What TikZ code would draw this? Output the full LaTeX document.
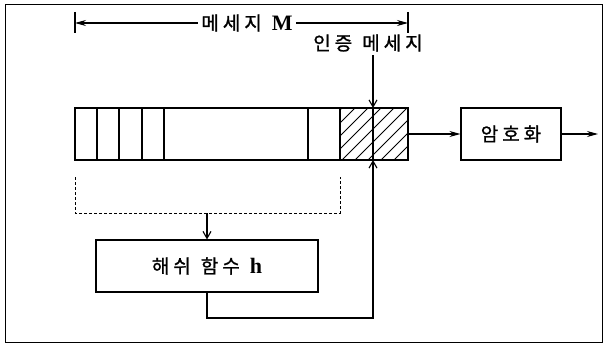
\documentclass[tikz,border=0pt]{standalone}
\usepackage{fontspec}
\setmainfont{Liberation Serif}
\newfontfamily\kr{Noto Sans CJK KR}[FakeBold=1.2]
\usetikzlibrary{arrows.meta}
\newcommand{\ks}{\hspace{4pt}}
\newcommand{\kw}{\hspace{10pt}}
\newcommand{\lat}[1]{{\rmfamily\bfseries\fontsize{22}{24}\selectfont #1}}
\tikzset{
  box/.style={draw,line width=1.1pt,inner sep=0pt},
  harr/.style={-{Stealth[length=11pt,width=6pt]}},
  varr/.style={-{Straight Barb[length=7pt,width=8pt]}},
  lbl/.style={font=\kr\fontsize{19}{21}\selectfont}
}
\begin{document}
\begin{tikzpicture}[x=1pt,y=-1pt,line width=1.1pt]
  \useasboundingbox (0,0) rectangle (606,345);
  \draw[line width=0.8pt] (5,4) rectangle (602,342);
  % message M dimension
  \draw (75,12) -- (75,33);
  \draw (408,12) -- (408,33);
  \node[lbl] (mlabel) at (247,23) {메\ks 세\ks 지\kw\lat{M}};
  \draw[harr] (mlabel.west) -- (75,23);
  \draw[harr] (mlabel.east) -- (408,23);
  % message block
  \node[box,minimum width=333pt,minimum height=52pt] (msg) at (241.5,134) {};
  \foreach \xx in {97,119,142,164,308,340} {
    \draw (\xx,108) -- (\xx,160);
  }
  \begin{scope}
    \clip (340,108) rectangle (408,160);
    \foreach \d in {290,303,...,420} {
      \draw[line width=1pt] (\d,160) -- ({\d+52},108);
    }
  \end{scope}
  \coordinate (tagin) at (373,108);
  \coordinate (tagout) at (373,160);
  \draw (tagin) -- (tagout);
  \node[lbl] (auth) at (368,43) {인\ks 증\kw 메\ks 세\ks 지};
  \draw[varr] (auth.south -| tagin) -- (tagin);
  % encryption
  \node[box,lbl,minimum width=100pt,minimum height=52pt] (enc) at (511,134) {암\ks 호\ks 화};
  \coordinate (out) at (598,134);
  \draw[harr] (msg.east) -- (enc.west);
  \draw[harr] (enc.east) -- (out);
  % hash input bracket
  \draw[densely dashed,line width=0.8pt] (75,177) -- (75,213) -- (340,213) -- (340,177);
  \node[box,lbl,minimum width=222pt,minimum height=52pt] (hash) at (207,266)
    {해\ks 쉬\kw 함\ks 수\kw\lat{h}};
  \draw[varr] (hash.north |- 0,213) -- (hash.north);
  \draw[varr] (hash.south) |- (373,318) -- (tagout);
\end{tikzpicture}
\end{document}
